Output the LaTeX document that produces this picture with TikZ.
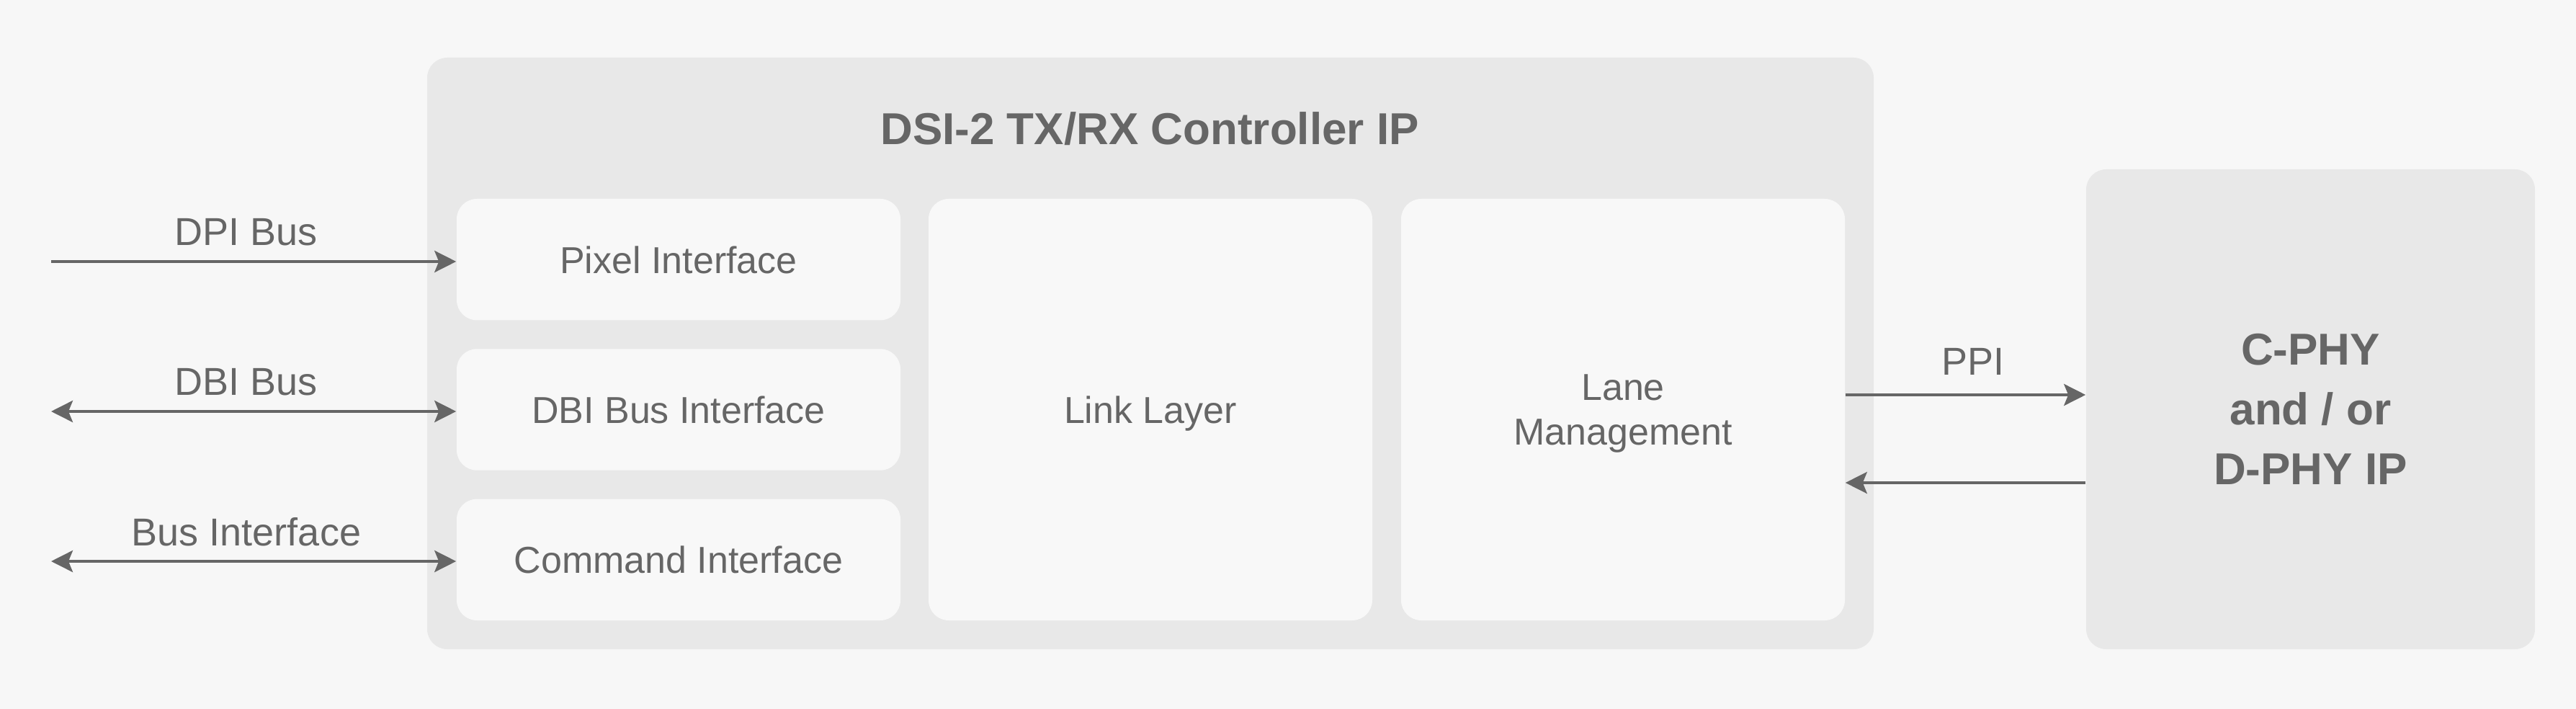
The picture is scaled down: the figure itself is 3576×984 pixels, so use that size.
\documentclass[tikz,border=0pt]{standalone}
\usepackage{fontspec}
\setmainfont{Liberation Sans}
\usetikzlibrary{arrows.meta}
\definecolor{bgc}{HTML}{F7F7F7}
\definecolor{outerc}{HTML}{E8E8E8}
\definecolor{innerc}{HTML}{F8F8F8}
\definecolor{txtc}{HTML}{666666}
\begin{document}
\begin{tikzpicture}[x=0.25pt,y=-0.25pt,
  bigbox/.style={fill=outerc, draw=none, rounded corners=7pt, inner sep=0pt},
  smallbox/.style={fill=innerc, draw=none, rounded corners=7pt, inner sep=0pt,
    minimum width=154pt, minimum height=42.1pt, text=txtc, text depth=0pt,
    font=\fontsize{13}{15.5}\selectfont},
  tallbox/.style={smallbox, minimum height=146.25pt, align=center},
  lbl/.style={text=txtc, inner sep=0pt, text depth=0pt, font=\fontsize{13.5}{16}\selectfont},
  ttl/.style={text=txtc, inner sep=0pt, text depth=0pt, font=\fontsize{15.5}{20.75}\selectfont\bfseries, align=center},
  arr/.style={draw=txtc, line width=1pt, -{Stealth[length=7.5pt,width=7.5pt,inset=1.5pt]}},
  darr/.style={draw=txtc, line width=1pt, {Stealth[length=7.5pt,width=7.5pt,inset=1.5pt]}-{Stealth[length=7.5pt,width=7.5pt,inset=1.5pt]}}
]
\fill[bgc] (0,0) rectangle (3576,984);
\useasboundingbox (0,0) rectangle (3576,984);

% controller block
\node[bigbox, minimum width=502pt, minimum height=205.25pt] (ctrl) at (1597,490.5) {};
\node[ttl] (title) at (1596,178) {DSI-2 TX/RX Controller IP};

\node[smallbox] (pix) at (942,360.2) {Pixel Interface};
\node[smallbox] (dbi) at (942,568.5) {DBI Bus Interface};
\node[smallbox] (cmd) at (942,776.8) {Command Interface};
\node[tallbox] (link) at (1597,568.5) {Link Layer};
\node[tallbox] (lane) at (2253,568.5) {Lane\\Management};

% PHY block
\node[bigbox, minimum width=155.75pt, minimum height=166.5pt, text=txtc, text depth=0pt,
  font=\fontsize{15.5}{20.75}\selectfont\bfseries, align=center] (phy) at (3207.5,568) {C-PHY\\and / or\\D-PHY IP};

% left side buses
\coordinate (dpiS) at (71,363);
\coordinate (dbiS) at (71,571);
\coordinate (busS) at (71,779);
\draw[arr] (dpiS) -- (pix.west |- dpiS);
\draw[darr] (dbiS) -- (dbi.west |- dbiS);
\draw[darr] (busS) -- (cmd.west |- busS);
\node[lbl] (l1) at (342,322) {DPI Bus};
\node[lbl] (l2) at (342,530) {DBI Bus};
\node[lbl] (l3) at (342,738) {Bus Interface};

% PPI
\coordinate (ppiY) at (0,548);
\coordinate (retY) at (0,670);
\draw[arr] (lane.east |- ppiY) -- (phy.west |- ppiY);
\draw[arr] (phy.west |- retY) -- (lane.east |- retY);
\node[lbl] (l4) at (2739,502) {PPI};
\end{tikzpicture}
\end{document}
